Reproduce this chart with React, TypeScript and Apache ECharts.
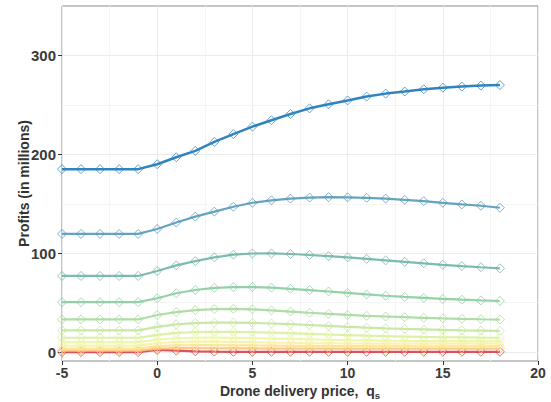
import { useEffect, useRef } from "react";
import * as echarts from "echarts";

// Drone delivery price grid (x)
const prices = [-5, -4, -3, -2, -1, 0, 1, 2, 3, 4, 5, 6, 7, 8, 9, 10, 11, 12, 13, 14, 15, 16, 17, 18];

// Profit curves (in millions), one per scenario, top to bottom
const profitsA = [185, 185, 185, 185, 185, 190, 197, 203.5, 212.5, 220.5, 228, 234.5, 240.8, 246.5, 250.6, 254.5, 258.4, 261.4, 263.5, 265.8, 267.4, 268.5, 269.5, 270];
const profitsB = [119.5, 119.5, 119.5, 119.5, 119.5, 124.5, 131, 137, 142, 147, 151, 153.5, 155.2, 156.2, 156.7, 156.5, 156, 155.2, 154, 152.7, 151, 149.3, 148, 146];
const profitsC = [77, 77, 77, 77, 77, 82, 87.7, 92, 95.8, 98.5, 99.7, 99.8, 99.2, 98.2, 97, 95.8, 94.3, 92.8, 91.3, 89.8, 88.3, 87, 85.8, 84.7];
const profitsD = [50.5, 50.5, 50.5, 50.5, 50.5, 54.5, 59.5, 62.8, 65, 65.8, 65.8, 65.2, 64, 62.7, 61.3, 59.8, 58.3, 57, 55.8, 54.8, 53.8, 53, 52.3, 51.7];
const profitsE = [33, 33, 33, 33, 33, 37.5, 40.5, 42.5, 43.5, 43.7, 43.2, 42.2, 41, 39.8, 38.7, 37.6, 36.7, 36, 35.3, 34.7, 34.1, 33.6, 33.2, 32.9];
const profitsF = [22, 22, 22, 22, 22, 25.5, 28, 29.3, 29.8, 29.8, 29.5, 28.9, 28.2, 27.4, 26.5, 25.5, 24.7, 24, 23.4, 22.9, 22.4, 22, 21.7, 21.4];
const profitsG = [14.5, 14.5, 14.5, 14.5, 14.5, 17.5, 19.5, 20.3, 20.5, 20.4, 20.1, 19.6, 19.1, 18.5, 17.8, 17.2, 16.6, 16.1, 15.7, 15.3, 15, 14.8, 14.6, 14.5];
const profitsH = [10, 10, 10, 10, 10, 12.5, 14, 14.5, 14.6, 14.4, 14.1, 13.7, 13.3, 12.9, 12.5, 12.1, 11.8, 11.5, 11.3, 11.2, 11.1, 11, 11, 11];
const profitsI = [6.5, 6.5, 6.5, 6.5, 6.5, 9, 10.2, 10.5, 10.5, 10.3, 10, 9.7, 9.4, 9.1, 8.9, 8.7, 8.6, 8.5, 8.5, 8.5, 8.5, 8.5, 8.5, 8.5];
const profitsJ = [3.5, 3.5, 3.5, 3.5, 3.5, 6, 6.8, 7, 7, 6.9, 6.7, 6.5, 6.3, 6.2, 6.1, 6, 6, 5.9, 5.9, 5.8, 5.8, 5.8, 5.8, 5.8];
const profitsK = [1.5, 1.5, 1.5, 1.5, 1.5, 3.5, 4, 4, 3.9, 3.8, 3.7, 3.6, 3.5, 3.5, 3.5, 3.4, 3.4, 3.4, 3.4, 3.4, 3.4, 3.4, 3.4, 3.4];
const profitsL = [0, 0, 0, 0, 0, 2.2, 1.5, 0.8, 0.5, 0.3, 0.3, 0.3, 0.3, 0.3, 0.3, 0.3, 0.3, 0.3, 0.3, 0.3, 0.3, 0.3, 0.3, 0.3];

const curves = [profitsA, profitsB, profitsC, profitsD, profitsE, profitsF, profitsG, profitsH, profitsI, profitsJ, profitsK, profitsL];

// Spectral ramp, blue (top) to red (bottom)
const lineColors = [
  "#2f84bd", "#5499b8", "#6fb4a6", "#8acc9e", "#a6d99b", "#c2e59a",
  "#d9ef9d", "#ecf6a4", "#f8f2a6", "#fde293", "#fcc47a", "#d9404c",
];

const xTicks = [-5, 0, 5, 10, 15, 20];
const yTicks = [0, 100, 200, 300];
const yMinorGrid = [50, 150, 250];

const FONT = "'Liberation Sans', Arial, sans-serif";

function hexToRgba(hex: string, a: number) {
  const n = parseInt(hex.slice(1), 16);
  return `rgba(${(n >> 16) & 255},${(n >> 8) & 255},${n & 255},${a})`;
}

export default function App() {
  const ref = useRef<HTMLDivElement>(null);

  useEffect(() => {
    if (!ref.current) return;
    const chart = echarts.init(ref.current, null, { renderer: "svg" });

    const lineSeries = curves.map((vals, i) => ({
      type: "line",
      name: `curve${i + 1}`,
      data: prices.map((p, j) => [p, vals[j]]),
      z: 3 + (curves.length - i),
      symbol: "diamond",
      symbolSize: 9,
      showSymbol: true,
      lineStyle: { color: hexToRgba(lineColors[i], i === 0 ? 1 : 0.9), width: i === 0 ? 2.5 : 2.2 },
      itemStyle: {
        color: "rgba(0,0,0,0)",
        borderColor: hexToRgba(lineColors[i], 0.75),
        borderWidth: 1,
      },
      emphasis: { disabled: true },
    }));

    chart.setOption({
      animation: false,
      backgroundColor: "#ffffff",
      grid: {
        left: 62,
        right: 13,
        top: 6,
        bottom: 41,
        containLabel: false,
        outerBoundsMode: "none",
        show: true,
        borderColor: "#8c8c8c",
        borderWidth: 1,
        backgroundColor: "#ffffff",
      },
      xAxis: {
        type: "value",
        min: xTicks[0],
        max: xTicks[xTicks.length - 1],
        interval: 5,
        axisLine: { show: false, onZero: false },
        axisTick: { show: true, length: 4, lineStyle: { color: "#333333" } },
        axisLabel: {
          fontSize: 14,
          fontWeight: "bold",
          color: "#3a3a3a",
          margin: 5,
          fontFamily: FONT,
        },
        splitLine: { show: true, lineStyle: { color: "#ebebeb", width: 1 } },
        minorTick: { show: false, splitNumber: 2 },
        minorSplitLine: { show: true, lineStyle: { color: "#f4f4f4", width: 1 } },
        name: "Drone delivery price,  {q|q}{s|s}",
        nameLocation: "middle",
        nameGap: 21,
        nameMoveOverlap: false,
        nameTextStyle: {
          fontSize: 14,
          fontWeight: "bold",
          color: "#333333",
          fontFamily: FONT,
          rich: {
            q: { fontSize: 14, fontWeight: "bold", color: "#333333", fontFamily: FONT },
            s: {
              fontSize: 9.5,
              fontWeight: "bold",
              color: "#333333",
              fontFamily: FONT,
              padding: [8, 0, 0, 0],
            },
          },
        },
      },
      yAxis: {
        type: "value",
        min: -9,
        max: 350,
        axisLine: { show: false, onZero: false },
        axisTick: {
          show: true,
          length: 4,
          customValues: yTicks,
          lineStyle: { color: "#333333" },
        },
        axisLabel: {
          customValues: yTicks,
          fontSize: 15,
          fontWeight: "bold",
          color: "#3a3a3a",
          margin: 6,
          fontFamily: FONT,
        },
        splitLine: { show: true, lineStyle: { color: "#ebebeb", width: 1 } },
        name: "Profits (in millions)",
        nameLocation: "middle",
        nameGap: 31,
        nameMoveOverlap: false,
        nameTextStyle: {
          fontSize: 14,
          fontWeight: "bold",
          color: "#333333",
          fontFamily: FONT,
        },
      },
      series: [
        {
          type: "line",
          name: "minorGrid",
          data: [],
          z: 1,
          silent: true,
          markLine: {
            silent: true,
            symbol: ["none", "none"],
            label: { show: false },
            lineStyle: { color: "#f4f4f4", width: 1, type: "solid" },
            emphasis: { disabled: true },
            data: yMinorGrid.map((v) => ({ yAxis: v })),
          },
        },
        ...lineSeries,
      ],
    });

    return () => chart.dispose();
  }, []);

  return (
    <div
      ref={ref}
      style={{ position: "fixed", left: 0, top: 0, width: 551, height: 402 }}
    />
  );
}
